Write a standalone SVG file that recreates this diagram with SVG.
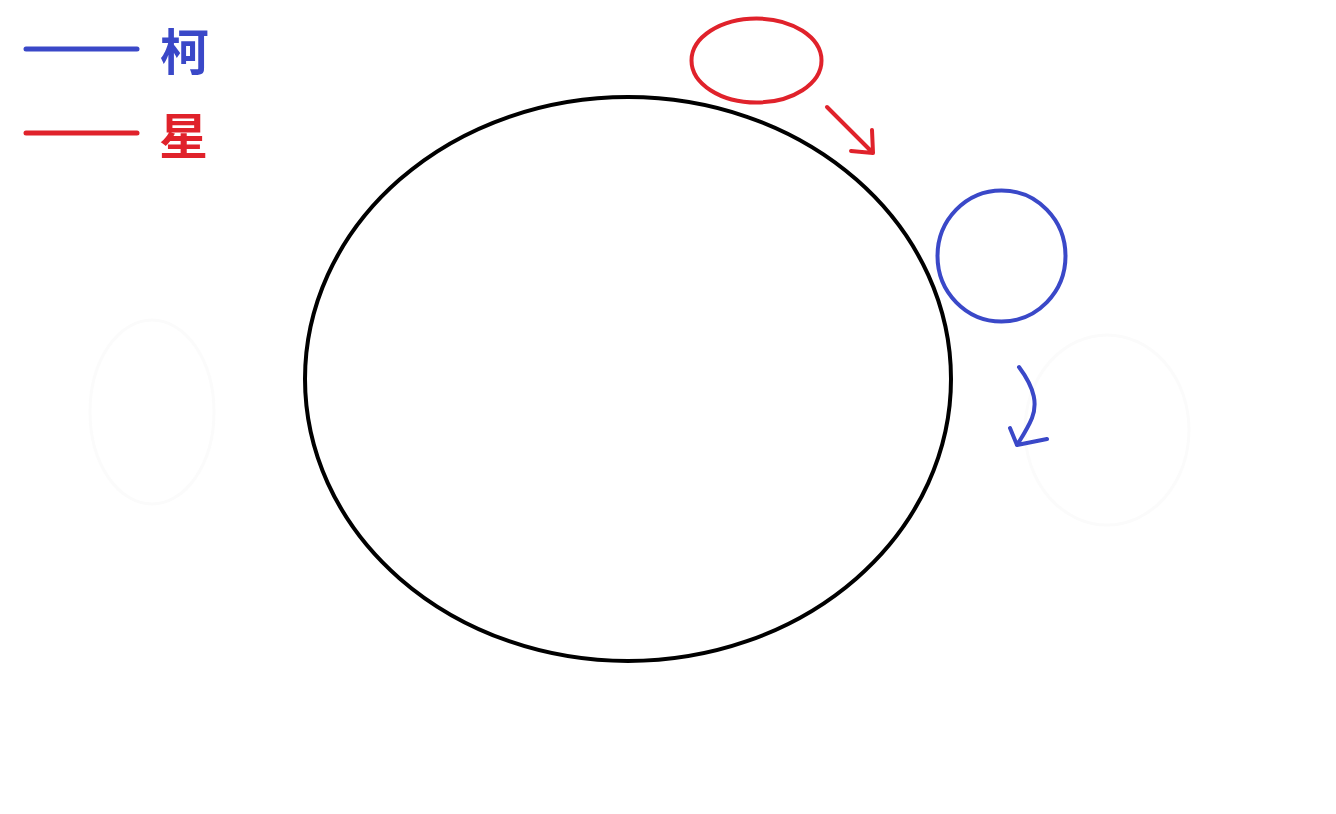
<svg xmlns="http://www.w3.org/2000/svg" width="1336" height="814" viewBox="0 0 1336 814">
<style>
.blue{stroke:#3a48c8;fill:none;stroke-width:4;stroke-linecap:round;stroke-linejoin:round}
.red{stroke:#e0222b;fill:none;stroke-width:4;stroke-linecap:round;stroke-linejoin:round}
.lbl{font-family:"Noto Sans CJK SC","Noto Sans",sans-serif;font-size:49px;font-weight:bold}
.ghost{stroke:#fbfbfb;fill:none;stroke-width:3}
</style>
<rect width="1336" height="814" fill="#ffffff"/>
<g id="legend">
<line class="blue" x1="26" y1="49" x2="137" y2="49" style="stroke-width:5"/>
<text class="lbl" x="160" y="70" fill="#3a48c8">柯</text>
<line class="red" x1="26" y1="133" x2="137" y2="133" style="stroke-width:5"/>
<text class="lbl" x="159" y="154" fill="#e0222b">星</text>
</g>
<g id="ghost-left"><ellipse class="ghost" cx="152" cy="412" rx="62" ry="92"/></g>
<g id="ghost-right"><ellipse class="ghost" cx="1107" cy="430" rx="82" ry="95"/></g>
<g id="big-ellipse"><ellipse cx="628" cy="379" rx="323" ry="282" fill="none" stroke="#000" stroke-width="4"/></g>
<g id="red-ellipse"><ellipse class="red" cx="756.5" cy="60.5" rx="65" ry="42"/></g>
<g id="blue-circle"><ellipse class="blue" cx="1001.5" cy="256" rx="64" ry="65.5"/></g>
<g id="connectors">
<path class="red" d="M827 107 L872 152 M872 130 L873 153 L851 151"/>
<path class="blue" d="M1019 367 C1036 390 1037 405 1032 418 C1028 428 1022 437 1017 445 M1010 428 L1017 445 L1047 439"/>
</g>
</svg>
